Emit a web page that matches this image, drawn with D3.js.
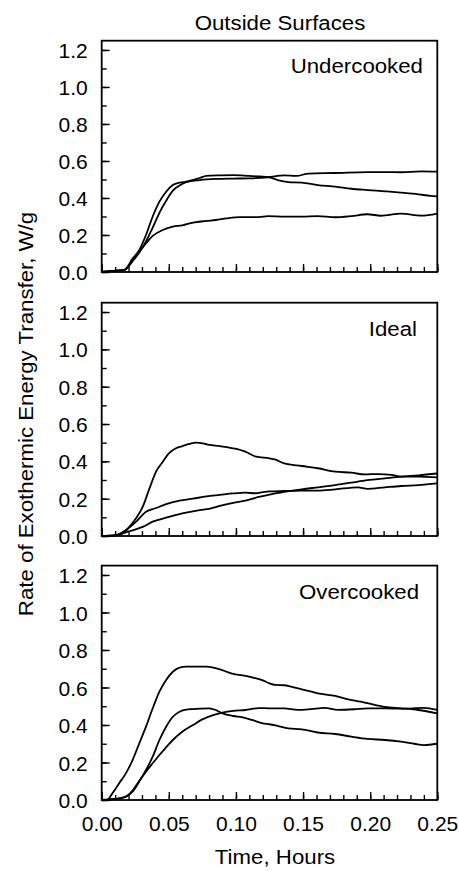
<!DOCTYPE html>
<html>
<head>
<meta charset="utf-8">
<script src="https://cdn.jsdelivr.net/npm/d3@7"></script>
<style>
  body { margin: 0; background: #fff; }
  text { font-family: "Liberation Sans", Arial, sans-serif; fill: #000; }
</style>
</head>
<body>
<svg id="chart" width="459" height="871"></svg>
<script>
// ---- tick labels and panel names ----
const xTickValues = [0, 0.05, 0.10, 0.15, 0.20, 0.25];
const xMinorValues = d3.range(0, 0.2501, 0.01);
const yTickValues = [0, 0.2, 0.4, 0.6, 0.8, 1.0, 1.2];
const yMinorValues = d3.range(0, 1.25, 0.1);
const panelNames = ["Undercooked", "Ideal", "Overcooked"];

// ---- series: [time (h), rate (W/g)] ----
const underA = [[0,0],[0.008,0.006],[0.017,0.012],[0.023,0.065],[0.028,0.119],[0.033,0.2],[0.038,0.3],[0.043,0.38],[0.048,0.434],[0.053,0.47],[0.058,0.483],[0.063,0.488],[0.073,0.508],[0.078,0.52],[0.088,0.522],[0.098,0.523],[0.110,0.519],[0.118,0.516],[0.124,0.513],[0.131,0.497],[0.139,0.486],[0.149,0.483],[0.161,0.47],[0.174,0.461],[0.186,0.45],[0.198,0.443],[0.211,0.436],[0.223,0.429],[0.236,0.42],[0.245,0.411],[0.25,0.409]];
const underB = [[0,0],[0.008,0.006],[0.017,0.012],[0.023,0.058],[0.028,0.105],[0.033,0.165],[0.038,0.24],[0.043,0.32],[0.048,0.385],[0.053,0.44],[0.058,0.468],[0.063,0.486],[0.073,0.497],[0.085,0.503],[0.098,0.505],[0.110,0.506],[0.124,0.512],[0.136,0.522],[0.145,0.519],[0.154,0.532],[0.174,0.535],[0.198,0.54],[0.211,0.54],[0.223,0.539],[0.238,0.544],[0.25,0.542]];
const underC = [[0,0],[0.008,0.006],[0.017,0.012],[0.023,0.072],[0.031,0.137],[0.038,0.195],[0.0455,0.227],[0.053,0.245],[0.060,0.252],[0.068,0.267],[0.078,0.276],[0.085,0.281],[0.093,0.29],[0.103,0.297],[0.117,0.297],[0.124,0.302],[0.136,0.299],[0.149,0.299],[0.161,0.302],[0.174,0.296],[0.186,0.302],[0.198,0.312],[0.208,0.304],[0.223,0.315],[0.238,0.305],[0.25,0.316]];

const idealP = [[0,0],[0.0095,0.003],[0.0157,0.014],[0.0207,0.05],[0.0256,0.095],[0.0306,0.157],[0.0356,0.255],[0.0405,0.345],[0.0455,0.398],[0.050,0.443],[0.0554,0.47],[0.0604,0.482],[0.0653,0.493],[0.0703,0.5],[0.0753,0.496],[0.080,0.488],[0.0877,0.482],[0.0976,0.47],[0.107,0.452],[0.115,0.425],[0.125,0.416],[0.129,0.41],[0.136,0.389],[0.149,0.375],[0.161,0.363],[0.174,0.345],[0.186,0.339],[0.196,0.33],[0.206,0.332],[0.216,0.327],[0.223,0.318],[0.236,0.318],[0.25,0.314]];
const idealQ = [[0,0],[0.0095,0.003],[0.018,0.032],[0.0257,0.077],[0.033,0.13],[0.0405,0.15],[0.048,0.171],[0.058,0.189],[0.068,0.2],[0.078,0.212],[0.088,0.22],[0.098,0.228],[0.107,0.232],[0.115,0.229],[0.12,0.235],[0.125,0.239],[0.136,0.241],[0.149,0.243],[0.161,0.243],[0.174,0.25],[0.191,0.261],[0.198,0.253],[0.211,0.261],[0.223,0.268],[0.236,0.273],[0.25,0.282]];
const idealR = [[0,0],[0.0095,0.003],[0.018,0.02],[0.023,0.03],[0.031,0.05],[0.038,0.077],[0.048,0.098],[0.060,0.121],[0.073,0.139],[0.080,0.145],[0.088,0.161],[0.098,0.178],[0.107,0.189],[0.117,0.209],[0.125,0.222],[0.136,0.236],[0.149,0.25],[0.161,0.261],[0.174,0.273],[0.186,0.286],[0.198,0.299],[0.211,0.309],[0.223,0.318],[0.236,0.325],[0.25,0.335]];

const overH = [[0,0],[0.004,0],[0.008,0.036],[0.013,0.089],[0.018,0.142],[0.023,0.213],[0.028,0.302],[0.033,0.391],[0.038,0.489],[0.043,0.578],[0.048,0.64],[0.053,0.684],[0.058,0.706],[0.063,0.711],[0.073,0.711],[0.078,0.711],[0.083,0.706],[0.088,0.697],[0.093,0.684],[0.098,0.672],[0.105,0.665],[0.112,0.654],[0.12,0.638],[0.125,0.622],[0.129,0.614],[0.136,0.612],[0.141,0.604],[0.149,0.59],[0.161,0.569],[0.174,0.555],[0.183,0.538],[0.193,0.524],[0.198,0.516],[0.211,0.496],[0.223,0.489],[0.236,0.48],[0.25,0.462]];
const overM = [[0,0],[0.008,0.004],[0.013,0.009],[0.018,0.018],[0.023,0.044],[0.028,0.098],[0.033,0.16],[0.038,0.231],[0.043,0.32],[0.048,0.391],[0.053,0.444],[0.058,0.471],[0.063,0.482],[0.073,0.487],[0.080,0.489],[0.085,0.48],[0.09,0.462],[0.098,0.448],[0.105,0.441],[0.112,0.427],[0.12,0.409],[0.125,0.404],[0.131,0.395],[0.139,0.382],[0.149,0.377],[0.161,0.36],[0.174,0.352],[0.186,0.338],[0.198,0.326],[0.211,0.32],[0.223,0.311],[0.233,0.3],[0.24,0.293],[0.25,0.3]];
const overL = [[0,0],[0.008,0.004],[0.013,0.009],[0.018,0.018],[0.023,0.05],[0.028,0.103],[0.033,0.151],[0.038,0.196],[0.043,0.24],[0.048,0.281],[0.053,0.32],[0.060,0.364],[0.068,0.4],[0.075,0.43],[0.083,0.453],[0.09,0.466],[0.098,0.475],[0.107,0.48],[0.117,0.49],[0.125,0.489],[0.136,0.489],[0.146,0.481],[0.156,0.485],[0.166,0.491],[0.176,0.481],[0.188,0.484],[0.198,0.489],[0.211,0.489],[0.223,0.487],[0.24,0.491],[0.25,0.48]];

const panelSeries = [
  [underA, underB, underC],
  [idealP, idealQ, idealR],
  [overH, overM, overL]
];

// ---- layout ----
const svg = d3.select("#chart");
const left = 101.7, right = 437.3;
const panels = [
  { top: 40.7, bottom: 272, labelX: 423, labelY: 73 },
  { top: 302.7, bottom: 536, labelX: 417, labelY: 336 },
  { top: 565.6, bottom: 800, labelX: 419, labelY: 599 }
];
const fontSize = 21;
const textStretch = 1.06; // labels are set slightly wide

const x = d3.scaleLinear().domain([0, 0.25]).range([left, right]);

// text placed with a small horizontal stretch
function wideText(sel, tx, ty, rot, anchor, str) {
  return sel.append("text")
    .attr("transform", `translate(${tx},${ty})` + (rot ? ` rotate(${rot})` : "") + ` scale(${textStretch},1)`)
    .attr("text-anchor", anchor)
    .attr("font-size", fontSize)
    .text(str);
}

panels.forEach((p, i) => {
  const y = d3.scaleLinear().domain([0, 1.25]).range([p.bottom, p.top]);
  const g = svg.append("g");

  // minor ticks
  g.append("g")
    .attr("transform", `translate(0,${p.bottom})`)
    .call(d3.axisBottom(x).tickValues(xMinorValues).tickSize(-5).tickFormat(""))
    .call(s => s.select(".domain").remove());
  g.append("g")
    .attr("transform", `translate(${left},0)`)
    .call(d3.axisLeft(y).tickValues(yMinorValues).tickSize(-5).tickFormat(""))
    .call(s => s.select(".domain").remove());

  // major ticks with labels
  const yAxis = g.append("g")
    .attr("transform", `translate(${left},0)`)
    .call(d3.axisLeft(y).tickValues(yTickValues).tickSize(-8).tickPadding(14).tickFormat(d3.format(".1f")));
  yAxis.select(".domain").remove();
  yAxis.selectAll("text").attr("font-size", fontSize).attr("font-family", null).attr("dy", "0.36em");

  const xAxis = g.append("g")
    .attr("transform", `translate(0,${p.bottom})`)
    .call(d3.axisBottom(x).tickValues(xTickValues).tickSize(-8).tickPadding(16)
      .tickFormat(i === 2 ? d3.format(".2f") : ""));
  xAxis.select(".domain").remove();
  xAxis.selectAll("text").attr("font-size", fontSize).attr("font-family", null);

  g.selectAll(".tick line").attr("stroke", "#000").attr("stroke-width", 1.4);

  // data curves
  const line = d3.line()
    .x(d => x(d[0]))
    .y(d => y(d[1]))
    .curve(d3.curveMonotoneX);
  g.selectAll("path.series")
    .data(panelSeries[i])
    .join("path")
    .attr("class", "series")
    .attr("d", line)
    .attr("fill", "none")
    .attr("stroke", "#000")
    .attr("stroke-width", 1.8)
    .attr("stroke-linejoin", "round");

  // frame
  g.append("rect")
    .attr("x", left).attr("y", p.top)
    .attr("width", right - left).attr("height", p.bottom - p.top)
    .attr("fill", "none").attr("stroke", "#000").attr("stroke-width", 1.8);

  // panel name
  wideText(g, p.labelX, p.labelY, 0, "end", panelNames[i]);
});

// titles
wideText(svg, 280, 30, 0, "middle", "Outside Surfaces");
wideText(svg, 275, 864, 0, "middle", "Time, Hours");
wideText(svg, 33, 414, -90, "middle", "Rate of Exothermic Energy Transfer, W/g");
</script>
</body>
</html>
